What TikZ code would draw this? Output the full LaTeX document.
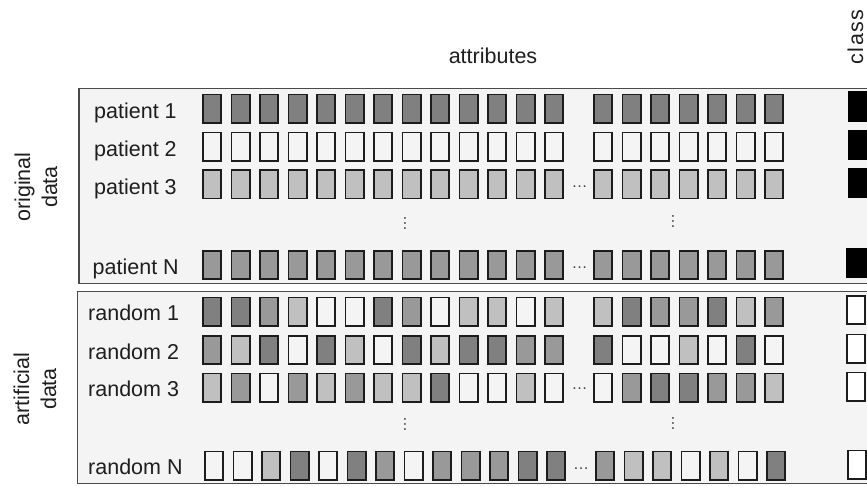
\documentclass[tikz,border=0pt]{standalone}
\usepackage{fontspec}
\setmainfont{Liberation Sans}
\definecolor{cD}{HTML}{808080}
\definecolor{cM}{HTML}{999999}
\definecolor{cL}{HTML}{C0C0C0}
\definecolor{cW}{HTML}{F4F4F4}
\definecolor{cK}{HTML}{000000}
\definecolor{cX}{HTML}{FFFFFF}
\definecolor{panelbg}{HTML}{F4F4F4}
\definecolor{panelln}{HTML}{4A4A4A}
\definecolor{cellln}{HTML}{1C1C1C}
\definecolor{txt}{HTML}{1E1E1E}
\definecolor{dotc}{HTML}{404040}
\newcommand\myrow[5]{%
  \foreach \kk [count=\ci from 0] in {#4} {\node[cell, fill=c\kk] (#1-\ci) at ({212+28.5*\ci+#3}, #2) {};}
  \foreach \kk [count=\ci from 13] in {#5} {\node[cell, fill=c\kk] (#1-\ci) at ({603+28.5*(\ci-13)+#3}, #2) {};}%
}
\tikzset{
  cell/.style={draw=cellln, line width=1.6pt, minimum width=18.4pt, minimum height=28.4pt, inner sep=0pt, outer sep=0pt},
  clsblack/.style={fill=black, draw=black, line width=0.5pt, minimum width=19.5pt, minimum height=29.5pt, inner sep=0pt},
  clswhite/.style={cell, fill=cX},
  panel/.style={draw=panelln, line width=1.5pt, fill=panelbg},
  lbl/.style={font=\fontsize{21.5}{25}\selectfont, text=txt, inner sep=0pt, anchor=base west},
  vlbl/.style={font=\fontsize{21.5}{25}\selectfont, text=txt, inner sep=0pt, anchor=base, rotate=90},
  hdots/.style={font=\fontsize{16}{18}\selectfont, text=dotc, inner sep=0pt, anchor=base},
  vdots/.style={hdots, rotate=90},
}
\begin{document}
\begin{tikzpicture}[x=1pt,y=-1pt]
\useasboundingbox (0,0) rectangle (867,485);
\clip (0,0) rectangle (867,485);
% headers
\node[font=\fontsize{21.5}{25}\selectfont, text=txt, inner sep=0pt, anchor=base] (attr) at (493,63) {attributes};
\node[vlbl, font=\fontsize{21.5}{25}\selectfont\addfontfeature{LetterSpace=6}] (cls) at (863,37) {class};
% panels
\draw[panel] (79,88.3) rectangle (900,283.5);
\draw[panel] (77.5,291.7) rectangle (900,483.3);
% side labels
\node[vlbl] (orig1) at (30,187) {original};
\node[vlbl] (orig2) at (57,187) {data};
\node[vlbl] (art1) at (29,389) {artificial};
\node[vlbl] (art2) at (56,389) {data};
% patient rows
\node[lbl] (pl1) at (94,118.5) {patient 1};
\node[lbl] (pl2) at (94,156.5) {patient 2};
\node[lbl] (pl3) at (94,194.2) {patient 3};
\node[lbl] (plN) at (92.5,274.8) {patient N};
\myrow{p1}{108.7}{0}{D,D,D,D,D,D,D,D,D,D,D,D,D}{D,D,D,D,D,D,D}
\myrow{p2}{146.7}{0}{W,W,W,W,W,W,W,W,W,W,W,W,W}{W,W,W,W,W,W,W}
\myrow{p3}{184.3}{0}{L,L,L,L,L,L,L,L,L,L,L,L,L}{L,L,L,L,L,L,L}
\myrow{pN}{265}{0}{M,M,M,M,M,M,M,M,M,M,M,M,M}{M,M,M,M,M,M,M}
\node[clsblack] (p1c) at (857.5,106.2) {};
\node[clsblack] (p2c) at (857.5,144.5) {};
\node[clsblack] (p3c) at (857.5,182.5) {};
\node[clsblack] (pNc) at (856,262.7) {};
\node[hdots] (p3d) at (579.5,187) {…};
\node[hdots] (pNd) at (579.5,268.2) {…};
\node[vdots] (pv1) at (405.8,223.5) {…};
\node[vdots] (pv2) at (673.8,221.5) {…};
% random rows
\node[lbl] (rl1) at (88,320.5) {random 1};
\node[lbl] (rl2) at (88,359) {random 2};
\node[lbl] (rl3) at (88,396.5) {random 3};
\node[lbl] (rlN) at (88,474.5) {random N};
\myrow{r1}{311.7}{0}{D,D,M,L,W,W,D,M,W,L,L,W,L}{L,D,M,M,D,L,M}
\myrow{r2}{350}{0}{M,L,D,W,D,L,W,D,L,D,D,M,M}{D,W,W,L,W,D,W}
\myrow{r3}{387.7}{0}{L,M,W,M,L,M,L,L,D,W,W,L,W}{W,M,D,D,M,M,L}
\myrow{rN}{465.5}{2}{W,W,L,D,W,D,M,W,M,M,M,D,D}{M,L,L,W,L,W,D}
\node[clswhite] (r1c) at (856,310) {};
\node[clswhite] (r2c) at (856,348.5) {};
\node[clswhite] (r3c) at (856,386.5) {};
\node[clswhite] (rNc) at (857,464.5) {};
\node[hdots] (r3d) at (579.5,389.2) {…};
\node[hdots] (rNd) at (581,469.2) {…};
\node[vdots] (rv1) at (405.8,424.5) {…};
\node[vdots] (rv2) at (673.8,423) {…};
\end{tikzpicture}
\end{document}
